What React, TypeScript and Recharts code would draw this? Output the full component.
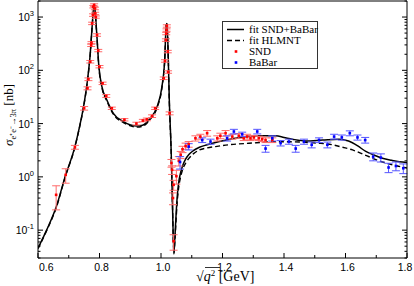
import { ComposedChart, Line, Scatter, ErrorBar, XAxis, YAxis } from 'recharts'

// fit SND+BaBar (solid)
const solidX = [0.6, 0.628, 0.66, 0.688, 0.72, 0.735, 0.748, 0.761, 0.77, 0.776, 0.7826, 0.791, 0.798, 0.808, 0.824, 0.845, 0.878, 0.922, 0.94, 0.965, 0.987, 1.003, 1.012, 1.017, 1.0195, 1.023, 1.027, 1.033, 1.037, 1.042, 1.045, 1.048, 1.052, 1.057, 1.063, 1.07, 1.08, 1.09, 1.105, 1.125, 1.15, 1.19, 1.232, 1.28, 1.318, 1.373, 1.4, 1.427, 1.471, 1.525, 1.579, 1.61, 1.64, 1.666, 1.69, 1.72, 1.75, 1.775, 1.8]
const solidY = [0.046, 0.1, 0.28, 1.0, 3.7, 8.7, 20.7, 65.8, 208, 660, 1750, 494, 117, 49, 27.7, 15.6, 10.9, 9.0, 9.3, 12.6, 20.7, 49, 155, 707, 760, 240, 27.7, 3.2, 0.37, 0.037, 0.07, 0.15, 0.37, 0.75, 1.15, 1.6, 2.15, 2.6, 3.1, 3.6, 4.0, 4.6, 5.2, 5.7, 5.9, 5.9, 5.5, 5.1, 4.7, 4.9, 5.1, 4.7, 3.8, 3.0, 2.6, 2.24, 2.05, 1.93, 1.87]

// fit HLMNT (dashed)
const dashedX = [0.6, 0.628, 0.66, 0.688, 0.72, 0.735, 0.748, 0.761, 0.77, 0.776, 0.7826, 0.791, 0.798, 0.808, 0.824, 0.845, 0.878, 0.922, 0.94, 0.965, 0.987, 1.003, 1.012, 1.017, 1.0195, 1.023, 1.027, 1.033, 1.037, 1.042, 1.045, 1.048, 1.052, 1.057, 1.063, 1.07, 1.08, 1.09, 1.105, 1.125, 1.15, 1.177, 1.22, 1.286, 1.373, 1.42, 1.471, 1.52, 1.558, 1.59, 1.623, 1.655, 1.688, 1.72, 1.753, 1.78, 1.8]
const dashedY = [0.045, 0.098, 0.27, 0.97, 3.6, 8.5, 20, 64, 205, 650, 1700, 480, 114, 47, 26.5, 15, 10.4, 8.6, 8.9, 12, 19.8, 47, 150, 690, 740, 230, 26, 3.0, 0.35, 0.036, 0.06, 0.12, 0.3, 0.6, 0.95, 1.35, 1.8, 2.2, 2.7, 3.2, 3.5, 3.7, 4.0, 4.27, 4.57, 4.55, 4.45, 4.25, 4.0, 3.6, 3.2, 2.7, 2.24, 1.9, 1.68, 1.55, 1.47]

// SND data
const sndX = [0.659, 0.69, 0.72, 0.75, 0.761, 0.764, 0.77, 0.773, 0.774, 0.776, 0.779, 0.78, 0.7826, 0.785, 0.786, 0.788, 0.792, 0.796, 0.8, 0.81, 0.822, 0.84, 0.881, 0.92, 0.941, 0.954, 0.971, 0.981, 1.009, 1.013, 1.016, 1.017, 1.018, 1.019, 1.022, 1.023, 1.028, 1.034, 1.036, 1.039, 1.041, 1.041, 1.05, 1.058, 1.064, 1.07, 1.08, 1.09, 1.112, 1.128, 1.15, 1.183, 1.193, 1.21, 1.232, 1.253, 1.269, 1.28, 1.291, 1.302, 1.318, 1.329, 1.34, 1.362]
const sndY = [0.46, 1.09, 3.6, 19.4, 46, 68, 145, 295, 330, 760, 1090, 1560, 1680, 1450, 1170, 1000, 460, 235, 117, 57, 33, 19.4, 11.8, 10, 11.4, 12, 13.8, 19.4, 71, 150, 370, 490, 570, 680, 225, 93, 15.6, 1.82, 1.36, 0.4, 0.71, 0.062, 1.03, 2.0, 2.6, 3.3, 3.8, 4.1, 5.3, 5.7, 6.6, 5.3, 5.9, 6.6, 5.7, 5.9, 5.3, 5.7, 5.3, 5.5, 5.3, 5.1, 4.9, 4.9]
const sndErr = [0.22, 0.33, 0.3, 1.5, 3, 4, 8, 15, 15, 40, 60, 80, 90, 80, 60, 50, 25, 12, 6, 3, 2, 1, 0.6, 0.6, 0.6, 0.7, 0.8, 1, 4, 8, 20, 25, 30, 35, 12, 5, 1, 0.3, 0.25, 0.1, 0.15, 0.02, 0.3, 0.4, 0.4, 0.45, 0.5, 0.5, 0.6, 0.6, 0.8, 0.6, 0.7, 0.8, 0.6, 0.6, 0.5, 0.6, 0.5, 0.5, 0.5, 0.5, 0.5, 0.5]

// BaBar data
const babarX = [1.062, 1.09, 1.134, 1.161, 1.215, 1.237, 1.264, 1.313, 1.34, 1.362, 1.389, 1.416, 1.438, 1.465, 1.49, 1.514, 1.541, 1.563, 1.588, 1.614, 1.639, 1.664, 1.69, 1.715, 1.74, 1.764, 1.788]
const babarY = [1.9, 3.7, 4.9, 4.6, 5.3, 7.1, 6.3, 7.1, 3.4, 5.3, 4.3, 4.6, 3.4, 4.6, 4.0, 4.9, 4.0, 5.7, 5.5, 6.6, 5.5, 4.9, 2.4, 2.3, 1.5, 1.6, 1.45]
const babarErr = [0.5, 0.5, 0.5, 0.5, 0.6, 0.7, 0.6, 0.7, 0.5, 0.6, 0.5, 0.5, 0.5, 0.5, 0.5, 0.5, 0.5, 0.6, 0.6, 0.7, 0.6, 0.6, 0.4, 0.4, 0.3, 0.3, 0.3]

const xTicks = [0.6, 0.7, 0.8, 0.9, 1.0, 1.1, 1.2, 1.3, 1.4, 1.5, 1.6, 1.7, 1.8]
const xMajorTicks = [0.6, 0.8, 1.0, 1.2, 1.4, 1.6, 1.8]
const yTicks = [
  0.03, 0.04, 0.05, 0.06, 0.07, 0.08, 0.09,
  0.1, 0.2, 0.3, 0.4, 0.5, 0.6, 0.7, 0.8, 0.9,
  1, 2, 3, 4, 5, 6, 7, 8, 9,
  10, 20, 30, 40, 50, 60, 70, 80, 90,
  100, 200, 300, 400, 500, 600, 700, 800, 900,
  1000, 2000,
]
const yMajorTicks = [0.1, 1, 10, 100, 1000]

const legendItems = [
  { label: 'fit SND+BaBar', kind: 'solid' },
  { label: 'fit HLMNT', kind: 'dashed' },
  { label: 'SND', kind: 'red' },
  { label: 'BaBar', kind: 'blue' },
]

const zip = (xs: number[], ys: number[], es?: number[]) =>
  xs.map((x, i) => (es ? { x, y: ys[i], err: es[i] } : { x, y: ys[i] }))

const solidData = zip(solidX, solidY)
const dashedData = zip(dashedX, dashedY)
const sndData = zip(sndX, sndY, sndErr)
const babarData = zip(babarX, babarY, babarErr)

const isMajorX = (v: number) => xMajorTicks.some((m) => Math.abs(m - v) < 1e-6)
const isMajorY = (v: number) => yMajorTicks.some((m) => Math.abs(m / v - 1) < 1e-6)

const tickFont = '"Liberation Sans", Arial, sans-serif'
const serif = '"Liberation Serif", "Times New Roman", serif'

const BottomTick = ({ x, y, payload }: any) => {
  const v = payload.value
  const major = isMajorX(v)
  const first = Math.abs(v - 0.6) < 1e-6
  const last = Math.abs(v - 1.8) < 1e-6
  return (
    <g>
      <line x1={x} x2={x} y1={y} y2={y - (major ? 5 : 3)} stroke="#000" />
      {major && (
        <text
          x={first ? x + 1 : last ? x - 2 : x + 2}
          y={y + 13}
          textAnchor={first ? 'start' : 'middle'}
          fontSize={10.5}
          fontFamily={tickFont}
          fill="#000"
        >
          {v.toFixed(1)}
        </text>
      )}
    </g>
  )
}

const TopTick = ({ x, y, payload }: any) => {
  const major = isMajorX(payload.value)
  return <line x1={x} x2={x} y1={y} y2={y + (major ? 5 : 3)} stroke="#000" />
}

const LeftTick = ({ x, y, payload }: any) => {
  const v = payload.value
  const major = isMajorY(v)
  const exp = Math.round(Math.log10(v))
  return (
    <g>
      <line x1={x} x2={x + (major ? 5 : 2.5)} y1={y} y2={y} stroke="#000" />
      {major && (
        <text x={x - 4} y={y + 4} textAnchor="end" fontSize={10.5} fontFamily={tickFont} fill="#000">
          <tspan>10</tspan>
          <tspan dy={-5} fontSize={7.5}>{exp < 0 ? `-${-exp}` : exp}</tspan>
        </text>
      )}
    </g>
  )
}

const RightTick = ({ x, y, payload }: any) => {
  const major = isMajorY(payload.value)
  return <line x1={x} x2={x - (major ? 5 : 2.5)} y1={y} y2={y} stroke="#000" />
}

const Dot = (color: string) => (props: any) => {
  const { cx, cy } = props
  if (cx == null || cy == null) return null
  return <rect x={cx - 1.3} y={cy - 1.3} width={2.6} height={2.6} fill={color} />
}

export default function App() {
  return (
    <div style={{ position: 'absolute', left: 0, top: 0, width: 414, height: 286, background: '#fff' }}>
      <ComposedChart width={414} height={286} margin={{ top: 0, right: 0, bottom: 0, left: 0 }}>
        <XAxis
          dataKey="x"
          type="number"
          domain={[0.6, 1.8]}
          allowDataOverflow
          ticks={xTicks}
          interval={0}
          height={28}
          tickSize={0}
          tickMargin={0}
          tick={<BottomTick />}
          axisLine={{ stroke: '#000' }}
        />
        <XAxis
          xAxisId="top"
          orientation="top"
          type="number"
          domain={[0.6, 1.8]}
          allowDataOverflow
          ticks={xTicks}
          interval={0}
          height={1}
          tickSize={0}
          tickMargin={0}
          tick={<TopTick />}
          axisLine={{ stroke: '#000' }}
        />
        <YAxis
          scale="log"
          type="number"
          domain={[0.03, 2000]}
          allowDataOverflow
          ticks={yTicks}
          interval={0}
          width={38}
          tickSize={0}
          tickMargin={0}
          tick={<LeftTick />}
          axisLine={{ stroke: '#000' }}
        />
        <YAxis
          yAxisId="right"
          orientation="right"
          scale="log"
          type="number"
          domain={[0.03, 2000]}
          allowDataOverflow
          ticks={yTicks}
          interval={0}
          width={7}
          tickSize={0}
          tickMargin={0}
          tick={<RightTick />}
          axisLine={{ stroke: '#000' }}
        />
        <Line
          data={dashedData}
          dataKey="y"
          type="monotone"
          stroke="#000"
          strokeWidth={1.4}
          strokeDasharray="5 3"
          dot={false}
          isAnimationActive={false}
        />
        <Line
          data={solidData}
          dataKey="y"
          type="monotone"
          stroke="#000"
          strokeWidth={1.5}
          dot={false}
          isAnimationActive={false}
        />
        <Scatter data={sndData} dataKey="y" shape={Dot('#ff0000')} isAnimationActive={false}>
          <ErrorBar dataKey="err" direction="y" width={4} stroke="#ff6a6a" strokeWidth={1} />
        </Scatter>
        <Scatter data={babarData} dataKey="y" shape={Dot('#0000ff')} isAnimationActive={false}>
          <ErrorBar dataKey="err" direction="y" width={4} stroke="#5555ff" strokeWidth={1} />
        </Scatter>
      </ComposedChart>

      <div
        style={{
          position: 'absolute',
          left: 222,
          top: 21,
          width: 94,
          height: 46,
          border: '1px solid #333',
          background: '#fff',
          fontFamily: serif,
          fontSize: 11,
          lineHeight: '11px',
          whiteSpace: 'nowrap',
        }}
      >
        {legendItems.map((e, i) => (
          <div
            key={i}
            style={{ position: 'absolute', left: 3, top: 1.5 + i * 11, height: 11, display: 'flex', alignItems: 'center' }}
          >
            <svg width={20} height={11}>
              {e.kind === 'solid' && <line x1={1} x2={18} y1={5.5} y2={5.5} stroke="#000" strokeWidth={1.5} />}
              {e.kind === 'dashed' && (
                <line x1={1} x2={18} y1={5.5} y2={5.5} stroke="#000" strokeWidth={1.4} strokeDasharray="5 3" />
              )}
              {e.kind === 'red' && <rect x={8.7} y={4.2} width={2.6} height={2.6} fill="#ff0000" />}
              {e.kind === 'blue' && <rect x={8.7} y={4.2} width={2.6} height={2.6} fill="#0000ff" />}
            </svg>
            <span style={{ marginLeft: 3, color: '#000' }}>{e.label}</span>
          </div>
        ))}
      </div>

      <svg width={414} height={286} style={{ position: 'absolute', left: 0, top: 0, pointerEvents: 'none' }}>
        <text
          transform="translate(13,115) rotate(-90)"
          textAnchor="middle"
          fontFamily={serif}
          fontSize={13}
          fill="#000"
        >
          <tspan fontStyle="italic">σ</tspan>
          <tspan fontSize={8.5} dy={3}>e⁺e⁻→3π</tspan>
          <tspan dy={-3}> [nb]</tspan>
        </text>
        <text x={196} y={281} fontFamily={serif} fontSize={14} fill="#000">
          <tspan>√</tspan>
          <tspan fontStyle="italic">q</tspan>
          <tspan fontSize={9} dy={-5}>2</tspan>
          <tspan dy={5}> [GeV]</tspan>
        </text>
        <line x1={205} x2={220} y1={267.5} y2={267.5} stroke="#000" strokeWidth={0.8} />
      </svg>
    </div>
  )
}
